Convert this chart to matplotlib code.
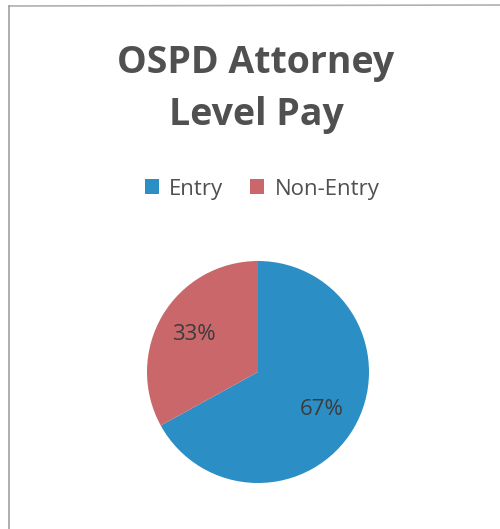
import matplotlib
matplotlib.use("Agg")
import matplotlib.pyplot as plt
from matplotlib.patches import Patch
from matplotlib.lines import Line2D

categories = ["Entry", "Non-Entry"]
values = [67, 33]
colors = ["#2b8ec4", "#c9676a"]
title = "OSPD Attorney\nLevel Pay"

W, H = 500, 529
fig = plt.figure(figsize=(W / 100, H / 100), dpi=100)
fig.patch.set_facecolor("white")

# Pie: center (258, 372), radius ~111 px
r = 111
cx, cy = 258, 372
ax = fig.add_axes([(cx - r) / W, 1 - (cy + r) / H, 2 * r / W, 2 * r / H])
wedges, texts, autotexts = ax.pie(
    values, colors=colors, startangle=90, counterclock=False,
    autopct="%d%%", pctdistance=0.67, radius=1.0,
    textprops=dict(fontsize=16, color="#3c3c3c", family="Open Sans"),
)
ax.set_xlim(-1, 1)
ax.set_ylim(-1, 1)
ax.set_aspect("equal")
ax.axis("off")

# Title
fig.text(256 / W, 1 - 89 / H, title, ha="center", va="center",
         fontsize=27, fontweight="bold", color="#505050", family="Open Sans",
         linespacing=1.45)

# Legend
handles = [Patch(facecolor=c, edgecolor="none") for c in colors]
fig.legend(handles, categories, loc="center", bbox_to_anchor=(262 / W, 1 - 189 / H),
           ncol=2, frameon=False, handlelength=0.65, handleheight=0.65,
           handletextpad=0.45, columnspacing=1.2,
           prop=dict(family="Open Sans", size=16))
for t in fig.legends[0].get_texts():
    t.set_color("#505050")

# Border lines (top and left)
fig.add_artist(Line2D([9 / W, 1.0], [1 - 6 / H, 1 - 5 / H], color="#b0b0b0", lw=1.2))
fig.add_artist(Line2D([9 / W, 9 / W], [1 - 6 / H, 0], color="#a0a0a0", lw=1.2))

fig.savefig("out.png", dpi=100, facecolor="white")
